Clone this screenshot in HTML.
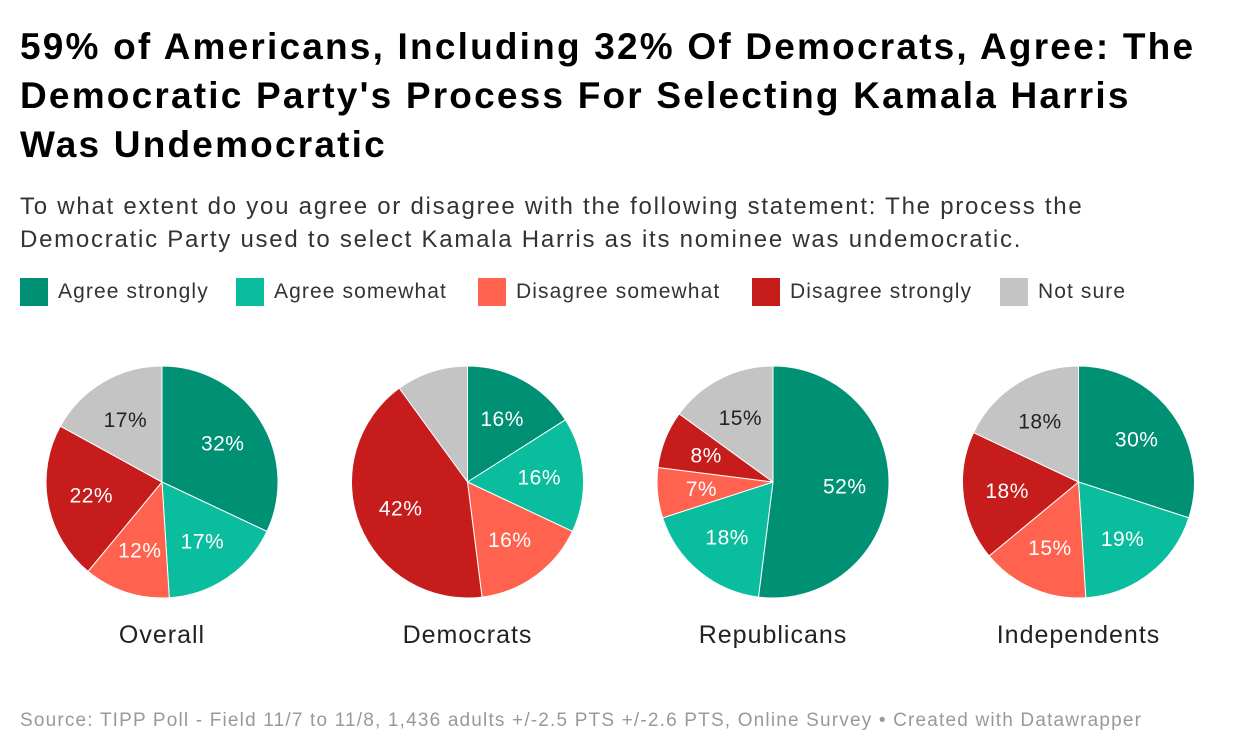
<!DOCTYPE html>
<html><head><meta charset="utf-8"><style>
body{margin:0;width:1240px;height:756px;background:#fff;font-family:"Liberation Sans",sans-serif;overflow:hidden;position:relative}
h1{position:absolute;left:20px;top:22px;margin:0;font-size:37px;line-height:49px;font-weight:bold;color:#000;width:1230px;letter-spacing:2.2px;white-space:nowrap}
.sub{position:absolute;left:20px;top:190px;font-size:24px;line-height:33px;color:#333;width:1220px;letter-spacing:1.75px;white-space:nowrap}
.li{position:absolute;top:278px;display:flex;align-items:center;font-size:21px;color:#333;letter-spacing:1.1px;white-space:nowrap}
.sw{width:28px;height:28px;margin-right:10px}
.src{position:absolute;left:20px;top:710px;font-size:19px;color:#999;letter-spacing:1.18px;white-space:nowrap}
</style></head><body>
<h1>59% of Americans, Including 32% Of Democrats, Agree: The<br>Democratic Party's Process For Selecting Kamala Harris<br>Was Undemocratic</h1>
<div class="sub">To what extent do you agree or disagree with the following statement: The process the<br>Democratic Party used to select Kamala Harris as its nominee was undemocratic.</div>
<div class="li" style="left:20px"><div class="sw" style="background:#009175"></div>Agree strongly</div>
<div class="li" style="left:236px"><div class="sw" style="background:#0bbd9f"></div>Agree somewhat</div>
<div class="li" style="left:478px"><div class="sw" style="background:#ff624f"></div>Disagree somewhat</div>
<div class="li" style="left:752px"><div class="sw" style="background:#c71c1c"></div>Disagree strongly</div>
<div class="li" style="left:1000px"><div class="sw" style="background:#c4c4c4"></div>Not sure</div>
<svg id="pies" width="1240" height="756" style="position:absolute;left:0;top:0"></svg>
<div class="src">Source: TIPP Poll - Field 11/7 to 11/8, 1,436 adults +/-2.5 PTS +/-2.6 PTS, Online Survey • Created with Datawrapper</div>
<script>
const groups=["Overall","Democrats","Republicans","Independents"];
const agreeStrongly=[32,16,52,30];
const agreeSomewhat=[17,16,18,19];
const disagreeSomewhat=[12,16,7,15];
const disagreeStrongly=[22,42,8,18];
const notSure=[17,10,15,18];
const series=[agreeStrongly,agreeSomewhat,disagreeSomewhat,disagreeStrongly,notSure];
const seriesNames=["agree-strongly","agree-somewhat","disagree-somewhat","disagree-strongly","not-sure"];
const colors=["#009175","#0bbd9f","#ff624f","#c71c1c","#c4c4c4"];
const textColors=["#fff","#fff","#fff","#fff","#222"];
const svg=document.getElementById('pies');
const NS="http://www.w3.org/2000/svg";
const cx0=162,dx=305.5,cy=482,R=116;
groups.forEach((g,gi)=>{
  const cx=cx0+gi*dx;
  const vals=series.map(s=>s[gi]);
  const tot=vals.reduce((a,b)=>a+b,0);
  let a0=0;
  vals.forEach((v,si)=>{
    const a1=a0+v/tot*2*Math.PI;
    const p=(a)=>[cx+R*Math.sin(a),cy-R*Math.cos(a)];
    const [x0,y0]=p(a0),[x1,y1]=p(a1);
    const path=document.createElementNS(NS,'path');
    path.setAttribute('d',`M${cx},${cy}L${x0},${y0}A${R},${R} 0 ${a1-a0>Math.PI?1:0} 1 ${x1},${y1}Z`);
    path.setAttribute('fill',colors[si]);
    path.setAttribute('stroke','#fff');
    path.setAttribute('stroke-width','1');
    
    
    svg.appendChild(path);
    if(v>=11 || (gi==2 && v>=7)){
      const m=(a0+a1)/2,r=R*0.62;
      const t=document.createElementNS(NS,'text');
      t.setAttribute('x',cx+r*Math.sin(m));
      t.setAttribute('y',cy-r*Math.cos(m)+7);
      t.setAttribute('text-anchor','middle');
      t.setAttribute('font-size','21');
      t.setAttribute('letter-spacing','0.5');
      t.setAttribute('fill',textColors[si]);
      t.setAttribute('font-family','Liberation Sans, sans-serif');
      t.textContent=v+'%';
      
      
      svg.appendChild(t);
    }
    a0=a1;
  });
  const t=document.createElementNS(NS,'text');
  t.setAttribute('x',cx);t.setAttribute('y',643);
  t.setAttribute('text-anchor','middle');t.setAttribute('font-size','25');
  t.setAttribute('letter-spacing','1');
  t.setAttribute('fill','#222');t.setAttribute('font-family','Liberation Sans, sans-serif');
  t.textContent=g;
  
  
  svg.appendChild(t);
});
</script>
</body></html>
